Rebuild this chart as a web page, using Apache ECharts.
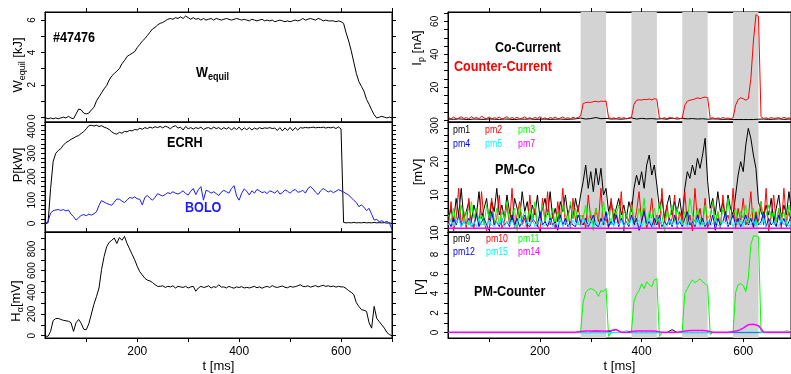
<!DOCTYPE html>
<html>
<head>
<meta charset="utf-8">
<script src="https://cdn.jsdelivr.net/npm/echarts@6/dist/echarts.min.js"></script>
<style>
  html, body { margin: 0; padding: 0; background: #fff; }
  #main { width: 791px; height: 374px; }
</style>
</head>
<body>
<div id="main"></div>
<script>
// time bases [ms]
const tMs = [
  20,25,30,35,40,45,50,55,60,65,
  70,75,80,85,90,95,100,105,110,115,
  120,125,130,135,140,145,150,155,160,165,
  170,175,180,185,190,195,200,205,210,215,
  220,225,230,235,240,245,250,255,260,265,
  270,275,280,285,290,295,300,305,310,315,
  320,325,330,335,340,345,350,355,360,365,
  370,375,380,385,390,395,400,405,410,415,
  420,425,430,435,440,445,450,455,460,465,
  470,475,480,485,490,495,500,505,510,515,
  520,525,530,535,540,545,550,555,560,565,
  570,575,580,585,590,595,600,605,610,615,
  620,625,630,635,640,645,650,655,660,665,
  670,675,680,685,690,695,700
];
const tCoarse = [
  20,30,40,50,60,70,80,90,100,110,
  120,130,140,150,160,170,180,190,200,210,
  220,230,240,250,260,270,280,290,300,310,
  320,330,340,350,360,370,380,390,400,410,
  420,430,440,450,460,470,480,490,500,510,
  520,530,540,550,560,570,580,590,600,610,
  620,630,640,650,660,670,680,690,700
];

// left column
const wEquil = [
  -0.05,-0.1,-0.05,-0.1,-0.05,-0.1,-0.05,0,-0.05,0.05,
  -0.05,-0.1,0.2,0.5,0.45,0.25,0.2,0.25,0.45,0.6,
  1.0,1.25,1.5,1.75,1.95,2.3,2.55,2.7,2.85,3.0,
  3.3,3.5,3.75,3.85,3.95,4.05,4.3,4.5,4.7,4.85,
  5.05,5.25,5.45,5.55,5.7,5.8,5.85,5.95,6.05,6.1,
  6.05,6.15,6.1,6.2,6.1,6.25,6.15,6.05,6.15,6.05,
  6.1,6.0,6.1,6.0,6.05,6.1,6.0,6.1,6.05,6.0,
  6.05,6.1,6.05,6.0,6.05,6.1,6.05,6.0,6.05,6.0,
  5.95,6.05,6.0,5.95,6.0,6.05,5.95,6.0,5.95,6.0,
  5.9,5.95,6.0,5.95,5.9,5.95,5.9,5.95,6.0,5.95,
  6.0,6.1,6.0,6.05,6.1,6.05,6.0,6.1,6.05,5.95,
  6.0,5.95,5.95,5.95,5.9,5.95,5.9,5.8,5.2,4.7,
  4.1,3.4,2.7,2.2,1.9,1.6,1.1,0.8,0.45,0.15,
  -0.05,0.0,0.05,0.0,-0.05,0.0,-0.05
];
const ecrh = [
  0,3,150,265,300,312,320,335,346,352,
  360,365,372,376,385,393,405,418,420,417,
  420,415,418,412,408,402,392,385,382,390,
  386,394,392,398,396,402,400,407,403,410,
  406,412,408,414,410,415,409,416,412,405,
  414,418,408,412,400,415,405,410,404,410,
  406,412,402,408,410,404,412,406,410,402,
  410,404,411,400,410,402,412,399,409,401,
  410,400,408,403,410,405,409,407,410,406,
  408,398,410,396,409,398,411,397,410,400,
  410,408,411,409,410,412,409,411,410,412,
  408,411,409,412,406,413,404,5,3,4,
  3,5,3,4,3,5,3,4,3,5,
  3,4,3,4,2,3,0
];
const bolo = [
  0,10,45,55,58,60,56,60,54,58,
  40,30,15,25,35,38,34,40,36,42,
  50,78,98,92,86,82,78,92,105,104,
  96,90,100,112,108,114,106,104,80,112,
  120,108,100,112,128,122,118,124,132,128,
  136,130,126,132,140,128,122,138,150,124,
  145,158,100,142,138,130,136,128,120,134,
  142,136,130,150,162,118,100,130,148,138,
  122,140,130,146,140,132,136,128,140,136,
  130,142,126,132,144,138,130,140,146,134,
  136,142,130,150,158,148,134,124,140,150,
  142,135,140,132,138,145,140,135,128,122,
  110,100,90,72,80,70,55,65,40,15,
  18,8,12,5,10,2,-25
];
const hAlpha = [
  -5,-5,40,140,158,160,150,142,138,133,
  120,40,120,150,115,60,55,110,200,290,
  360,440,610,730,820,860,880,900,850,905,
  880,915,850,800,750,700,640,590,560,530,
  512,505,490,470,455,455,460,445,455,450,
  460,440,455,450,445,455,440,450,455,410,
  440,455,445,450,460,440,452,445,470,448,
  450,440,455,445,438,450,445,452,440,446,
  440,448,455,442,450,438,448,455,445,462,
  450,445,452,458,446,442,455,448,452,460,
  470,455,452,460,448,455,462,450,458,465,
  455,460,452,458,448,455,450,450,435,415,
  400,380,305,270,240,235,225,120,70,270,
  160,130,100,70,30,10,0
];

// right column
const bands = [[280, 330], [380, 430], [480, 530], [580, 630]];
const ipCounter = [
  1.5,0.8,1.8,0.6,1.2,2.0,0.9,1.5,0.7,2.1,
  1.0,1.6,0.8,2.4,1.2,0.9,1.9,0.7,1.4,1.0,
  1.8,0.6,1.3,2.0,0.8,1.5,0.9,1.7,0.6,1.2,
  1.9,0.8,1.4,0.7,1.6,1.0,2.0,0.8,1.3,0.6,
  1.5,1.0,1.8,0.7,1.2,1.9,0.9,1.4,0.8,1.6,
  1.0,1.5,2.5,10.0,10.6,10.8,10.7,11.2,11.4,11.0,
  11.5,11.3,11.6,1.5,0.9,1.3,0.8,1.6,1.0,1.4,
  0.8,1.2,1.5,9.5,12.0,12.3,12.1,12.6,12.4,12.8,
  12.2,13.0,12.6,1.2,0.9,1.4,0.8,1.6,1.1,0.9,
  1.5,0.8,1.2,9.0,11.5,12.0,12.4,12.8,13.5,13.0,
  13.6,14.0,13.5,1.0,1.4,0.8,1.3,0.9,1.5,1.0,
  1.2,0.8,1.4,9.0,12.5,13.5,13.0,12.0,13.0,25.0,
  48.0,64.0,63.0,2.0,1.0,1.3,0.8,1.5,1.0,1.2,
  1.4,0.9,1.6,1.0,1.3,0.8,1.1
];
const ipCo = [
  0.6,0.4,0.7,0.5,0.3,0.6,0.5,0.4,0.7,0.5,
  0.4,0.6,0.5,0.3,0.6,0.5,0.7,0.4,0.5,0.6,
  0.4,0.5,0.6,0.4,0.5,0.7,1.2,0.6,0.9,1.5,
  0.8,1.0,0.6,0.7,0.5,0.8,1.3,0.6,1.0,0.7,
  0.9,0.6,0.8,0.5,1.2,0.6,1.0,0.7,0.9,0.6,
  0.8,0.5,0.7,0.6,0.4,0.5,0.3,0.3,0.3,0.3,
  0.3,0.5,0.6,0.4,0.5,0.7,0.4,0.6,0.5
];
const pm1 = [
  3,6,2,9,4,12,3,5,8,2,
  7,4,11,3,6,9,2,8,5,12,
  4,7,3,10,5,2,9,6,3,11,
  5,8,2,7,4,10,3,6,9,4,
  11,3,6,2,8,5,10,4,7,3,
  9,5,10,14,19,12,17,11,18,13,
  18,10,12,5,8,3,6,9,4,7,
  3,8,5,12,16,13,17,12,19,22,
  16,19,13,6,9,3,7,10,4,8,
  5,9,3,12,17,15,19,16,21,18,
  22,27,14,6,9,4,11,5,8,3,
  10,6,4,10,16,20,17,25,30,27,
  22,18,8,5,3,7,4,9,2,6,
  10,3,7,4,11,5,3
];
const pm2 = [
  1,8,-0.8,3,12,1,5,0,9,2,
  0,6,1,11,2,-0.8,4,9,1,3,
  10,0,2,7,1,12,0,4,8,1,
  3,0,10,2,6,1,-0.8,9,2,11,
  1,4,0,8,2,12,1,5,0,9,
  2,7,1,4,0,10,3,1,6,2,
  12,1,3,0,9,2,5,1,11,-0.8,
  4,2,8,1,5,11,2,6,0,3,
  9,1,4,0,12,2,7,1,3,10,
  0,5,2,11,1,4,-0.8,12,2,6,
  1,9,0,3,8,1,5,0,10,2,
  4,1,12,0,6,2,9,1,3,11,
  0,5,2,8,1,12,-0.8,4,10,1,
  6,0,12,2,5,1,9
];
const pm3 = [
  4,2,6,1,3,7,2,5,1,8,
  3,6,2,4,1,7,3,5,2,6,
  1,5,3,8,2,4,6,-0.7,7,3,
  5,2,6,3,8,1,4,7,2,5,
  3,6,1,5,2,7,4,2,8,3,
  6,1,4,3,7,2,5,-0.7,6,3,
  2,8,3,5,1,6,4,7,2,5,
  4,1,7,3,2,6,3,9,1,5,
  3,6,2,8,4,-0.7,5,3,7,2,
  6,3,1,5,2,9,4,2,6,3,
  1,7,3,4,8,2,5,1,6,3,
  9,2,4,6,1,5,3,7,2,4,
  6,1,5,8,2,4,7,3,5,2,
  6,3,5,1,7,2,4
];
const pm4 = [
  2,0.5,3,1,4,0.5,2,1,3,0.5,
  1,4,0.5,2,3,1,-0.6,5,1,2,
  0.5,3,1,2,0.5,4,1,3,0.5,2,
  4,1,0.5,3,2,0.5,5,1,2,0.5,
  3,1,2,-0.6,4,1,3,0.5,2,1,
  0.5,4,2,1,3,0.5,2,4,1,0.5,
  3,1,5,0.5,2,1,4,0.5,3,1,
  2,0.5,4,1,3,-0.6,2,5,1,2,
  0.5,3,1,4,0.5,2,1,3,0.5,4,
  1,2,0.5,3,5,1,2,0.5,4,1,
  3,0.5,2,1,4,-0.6,3,1,2,5,
  0.5,2,4,1,3,0.5,2,4,1,3,
  0.5,4,1,2,5,0.5,3,1,2,0.5,
  4,1,3,0.5,2,4,1
];
const pm5 = [
  1,2.5,0.5,1.5,3,0.5,2,1,2.5,0.5,
  2,0.5,3,1,1.5,0.5,2.5,1,0.5,2,
  1,3,0.5,2,1,2.5,0.5,1.5,3,1,
  0.5,2,1,3,0.5,1.5,2.5,0.5,1,2,
  2.5,0.5,1.5,1,3,0.5,2,1,0.5,2.5,
  1,2,0.5,3,1.5,1,2.5,0.5,2,1,
  0.5,2.5,1,1.5,3,0.5,2,1,2.5,0.5,
  2,1,3,0.5,1.5,2.5,0.5,2,1,3,
  1,0.5,2,3,1,1.5,0.5,2.5,1,2,
  0.5,3,1,2,0.5,2.5,1.5,1,3,0.5,
  2,1,2.5,0.5,1.5,3,1,0.5,2,1.5,
  1,3,0.5,2,1,2.5,0.5,3,1.5,1,
  2.5,0.5,2,1,3,0.5,1.5,2.5,1,2,
  0.5,3,1,2,0.5,2.5,1
];
const pm7 = [
  0,0,0,0,0,0,0,0,0,0,
  0,0,0,0,0,0,0,0,0,0,
  0,0,0,0,0,0,0,0,0,0,
  0,0,0,0,0,0,0,0,0,0,
  0,0,0,0,0,0,0,0,0,0,
  0,0,0,0,0,0,0,0,0,0,
  0,0,0,0,0,0,0,0,0
];
const pm11 = [
  0,0,0,0,0,0,0,0,0,0,
  0,0,0,0,0,0,0,0,0,0,
  0,0,0,0,0,0,0,0,0,0,
  0,0,0,0,0,0,0,0,0,0,
  0,0,0,0,0,0,0,0,0,0,
  0,0,0.1,3.1,4.1,4.4,4.5,4.4,4.2,3.7,
  4.3,4.2,4.5,-0.4,0,0,0,0,0,0,
  0,0,0.1,3.2,3.9,4.3,5.0,4.5,5.2,4.9,
  4.7,5.4,5.5,-0.4,0,0,0,0,0,0,
  0,0,0.1,4.0,4.5,5.0,5.4,5.1,5.3,5.5,
  5.2,5.0,4.8,-0.2,0,0,0,0,0,0,
  0,0,0.1,4.1,4.9,5.0,4.8,4.2,5.6,9.0,
  9.9,9.9,9.8,0.1,0.05,0.05,0.05,0.05,0.05,0.05,
  0.05,0.05,0.05,0.2,0.1,0.05,0.05
];
const pm9 = [
  0,0,0,0,0,0,0,0,0,0,
  0,0,0,0,0,0,0,0,0,0,
  0,0,0,0,0,0,0,0,0,0,
  0,0,0,0,0,0,0,0,0,0,
  0,0,0,0,0.3,0,0,0,0,0,
  0,0,0,0,0,0,0,0,0,0,
  0,0,0,0,0,0,0,0,0
];
const pm10 = [
  0,0,0,0,0,0,0,0,0,0,
  0,0,0,0,0,0,0,0,0,0,
  0,0,0,0,0,0,0,0,0,0.2,
  0,0,0,0,0,0,0,0,0,0,
  0,0,0,0,0,0,0,0,0,0,
  0,0,0,0,0,0,0,0,0,0,
  0,0,0,0,0,0,0,0,0
];
const pm12 = [
  0,0,0,0,0,0,0,0,0,0,
  0,0,0,0,0,0,0,0,0,0,
  0,0,0,0,0,0,0,0,0,0,
  0,0,0.15,0.3,0,0,0,0,0,0,
  0,0,0,0,0,0,0,0,0,0,
  0,0,0,0,0,0,0,0,0,0,
  0,0,0,0,0,0,0,0,0
];
const pm15 = [
  0,0,0,0,0,0,0,0,0,0,
  0,0,0,0,0,0,0,0,0,0,
  0,0,0,0,0,0,0,0,0,0,
  0,0,0,0,0,0.2,0,0,0,0,
  0,0,0,0,0,0,0,0,0,0,
  0,0,0,0,0,0,0.05,0.05,0.05,0.05,
  0.05,0.05,0,0,0,0,0,0,0
];
const pm14 = [
  0.02,0.02,0.02,0.02,0.02,0.02,0.02,0.02,0.02,0.02,
  0.02,0.02,0.02,0.02,0.02,0.02,0.02,0.02,0.02,0.02,
  0.02,0.02,0.02,0.02,0.02,0.02,0.1,0.15,0.15,0.15,
  0.15,0.12,0.2,0.3,0.02,0.02,0.1,0.15,0.15,0.15,
  0.15,0.12,0.02,0.02,0.02,0.02,0.1,0.18,0.2,0.2,
  0.2,0.15,0.02,0.02,0.02,0.02,0.1,0.2,0.45,0.8,
  0.85,0.7,0.05,0.02,0.02,0.02,0.02,0.02,0.02
];

// tick labels
const xTicks = [100, 200, 300, 400, 500, 600, 700];
const xLabels = [200, 400, 600];
const wTicks = [0, 1, 2, 3, 4, 5, 6];
const wLabels = [0, 2, 4, 6];
const pTicks = [0, 20, 40, 60, 80, 100, 120, 140, 160, 180, 200, 220, 240, 260, 280, 300, 320, 340, 360, 380, 400, 420];
const pLabels = [0, 100, 200, 300, 400];
const hTicks = [0, 100, 200, 300, 400, 500, 600, 700, 800, 900];
const hLabels = [0, 200, 400, 600, 800];
const ipTicks = [0, 5, 10, 15, 20, 25, 30, 35, 40, 45, 50, 55, 60, 65];
const ipLabels = [0, 20, 40, 60];
const mvTicks = [0, 2, 4, 6, 8, 10, 12, 14, 16, 18, 20, 22, 24, 26, 28, 30];
const mvLabels = [0, 10, 20, 30];
const vTicks = [0, 1, 2, 3, 4, 5, 6, 7, 8, 9, 10];
const vLabels = [0, 2, 4, 6, 8, 10];

const FONT = "'Liberation Sans Narrow', 'Liberation Sans', Arial, sans-serif";
const C = { blk: '#000000', red: '#ff0000', grn: '#00ff00', blu: '#0000ff', cyn: '#00ffff', mag: '#ff00ff' };

// grid layout: left column and right column, three stacked panels each
const panels = [
  { left: 45,  top: 12,  width: 347, xMax: 700, yMin: -0.3, yMax: 6.5,  ticks: wTicks,  labels: wLabels },
  { left: 45,  top: 122, width: 347, xMax: 700, yMin: -36,  yMax: 434,  ticks: pTicks,  labels: pLabels },
  { left: 45,  top: 232, width: 347, xMax: 700, yMin: -21,  yMax: 956,  ticks: hTicks,  labels: hLabels,  bottom: true },
  { left: 448, top: 12,  width: 343, xMax: 694, yMin: -1.2, yMax: 65.7, ticks: ipTicks, labels: ipLabels },
  { left: 448, top: 122, width: 343, xMax: 694, yMin: -1.1, yMax: 31.9, ticks: mvTicks, labels: mvLabels },
  { left: 448, top: 232, width: 343, xMax: 694, yMin: -0.56, yMax: 10.3, ticks: vTicks, labels: vLabels, bottom: true }
];

const grid = [], xAxis = [], yAxis = [];
panels.forEach((p, g) => {
  grid.push({ left: p.left, top: p.top, width: p.width, height: 110, show: true, borderColor: '#000', borderWidth: 1 });
  const xb = { gridIndex: g, type: 'value', min: 19, max: p.xMax, splitLine: { show: false },
    axisLine: { show: true, onZero: false, lineStyle: { color: '#000' } } };
  xAxis.push(Object.assign({}, xb, {
    position: 'bottom',
    axisTick: { show: !!p.bottom, length: 4, customValues: xTicks, lineStyle: { color: '#000' } },
    axisLabel: { show: !!p.bottom, customValues: xLabels, color: '#000', fontSize: 12, fontFamily: FONT, margin: 8 },
    name: p.bottom ? 't [ms]' : '', nameLocation: 'middle', nameGap: 22,
    nameTextStyle: { color: '#000', fontSize: 13, fontFamily: FONT }
  }));
  xAxis.push(Object.assign({}, xb, {
    position: 'top',
    axisTick: { show: true, length: 4, customValues: xTicks, lineStyle: { color: '#000' } },
    axisLabel: { show: false }
  }));
  const yb = { gridIndex: g, type: 'value', min: p.yMin, max: p.yMax, splitLine: { show: false },
    axisLine: { show: true, onZero: false, lineStyle: { color: '#000' } } };
  yAxis.push(Object.assign({}, yb, {
    position: 'left',
    axisTick: { show: true, length: 4, customValues: p.ticks, lineStyle: { color: '#000' } },
    axisLabel: { customValues: p.labels, rotate: 90, color: '#000', fontSize: 10, fontFamily: FONT, margin: 8 }
  }));
  yAxis.push(Object.assign({}, yb, {
    position: 'right',
    axisTick: { show: true, length: 4, customValues: p.ticks, lineStyle: { color: '#000' } },
    axisLabel: { show: false }
  }));
});

function line(g, ts, vs, color, width) {
  return {
    type: 'line', xAxisIndex: 2 * g, yAxisIndex: 2 * g,
    data: ts.map((t, i) => [t, vs[i]]),
    showSymbol: false, symbol: 'none', silent: true,
    lineStyle: { color: color, width: width || 1 }, itemStyle: { color: color }
  };
}
function shade(g) {
  return {
    type: 'line', xAxisIndex: 2 * g, yAxisIndex: 2 * g, data: [], silent: true,
    markArea: { silent: true, itemStyle: { color: '#d3d3d3' },
      data: bands.map(b => [{ xAxis: b[0] }, { xAxis: b[1] }]) }
  };
}

const series = [
  line(0, tMs, wEquil, C.blk),
  line(1, tMs, ecrh, C.blk),
  line(1, tMs, bolo, '#1a1aff'),
  line(2, tMs, hAlpha, C.blk),
  shade(3), shade(4), shade(5),
  line(3, tCoarse, ipCo, C.blk),
  line(3, tMs, ipCounter, C.red),
  line(4, tMs, pm1, C.blk),
  line(4, tMs, pm2, C.red),
  line(4, tMs, pm3, C.grn),
  line(4, tMs, pm4, C.blu),
  line(4, tMs, pm5, C.cyn),
  line(4, tCoarse, pm7, C.mag, 1.5),
  line(5, tCoarse, pm9, C.blk),
  line(5, tCoarse, pm10, C.red),
  line(5, tMs, pm11, C.grn),
  line(5, tCoarse, pm12, C.blu),
  line(5, tCoarse, pm15, C.cyn),
  line(5, tCoarse, pm14, C.mag, 1.5)
];

function txt(x, y, text, color, size, bold, sx) {
  return { type: 'text', x: x, y: y, scaleX: sx || 1, silent: true, z: 100,
    style: { text: text, fill: color, fontSize: size, fontWeight: bold ? 'bold' : 'normal',
      fontFamily: FONT, align: 'left', verticalAlign: 'middle' } };
}
function subText(x, y, main, sub, rest, size, bold, color, rotate, sx) {
  return { type: 'text', x: x, y: y, silent: true, z: 100, scaleX: sx || 1,
    rotation: rotate ? Math.PI / 2 : 0,
    style: {
      text: '{n|' + main + '}{s|' + sub + '}' + (rest ? '{n|' + rest + '}' : ''),
      fill: color, fontFamily: FONT, fontWeight: bold ? 'bold' : 'normal',
      align: rotate ? 'center' : 'left', verticalAlign: 'middle',
      rich: {
        n: { fontSize: size, fontFamily: FONT, fontWeight: bold ? 'bold' : 'normal', fill: color },
        s: { fontSize: Math.round(size * 0.7), fontFamily: FONT, fontWeight: bold ? 'bold' : 'normal', fill: color, padding: [9, 0, 0, 0] }
      }
    } };
}
function vName(x, y, text) {
  return { type: 'text', x: x, y: y, rotation: Math.PI / 2, silent: true, z: 100,
    style: { text: text, fill: '#000', fontSize: 13, fontFamily: FONT, align: 'center', verticalAlign: 'middle' } };
}

const graphic = [
  txt(53, 38, '#47476', C.blk, 14, true, 0.9),
  subText(196, 73, 'W', 'equil', '', 14, true, C.blk, false, 0.9),
  txt(167, 143, 'ECRH', C.blk, 14, true, 0.9),
  txt(185, 208, 'BOLO', '#1a1aff', 14, true, 0.9),
  txt(495, 48, 'Co-Current', C.blk, 14, true, 0.89),
  txt(454, 67, 'Counter-Current', C.red, 14, true, 0.9),
  txt(495, 170, 'PM-Co', C.blk, 14, true, 0.9),
  txt(474, 292, 'PM-Counter', C.blk, 14, true, 0.9),
  txt(453, 130, 'pm1', C.blk, 11, false, 0.8), txt(485, 130, 'pm2', C.red, 11, false, 0.8), txt(518, 130, 'pm3', C.grn, 11, false, 0.8),
  txt(453, 143.5, 'pm4', C.blu, 11, false, 0.8), txt(485, 143.5, 'pm5', C.cyn, 11, false, 0.8), txt(518, 143.5, 'pm7', C.mag, 11, false, 0.8),
  txt(453, 239, 'pm9', C.blk, 11, false, 0.8), txt(486, 239, 'pm10', C.red, 11, false, 0.8), txt(518, 239, 'pm11', C.grn, 11, false, 0.8),
  txt(453, 251.5, 'pm12', C.blu, 11, false, 0.8), txt(486, 251.5, 'pm15', C.cyn, 11, false, 0.8), txt(518, 251.5, 'pm14', C.mag, 11, false, 0.8),
  subText(18, 65, 'W', 'equil', ' [kJ]', 13, false, C.blk, true),
  vName(18, 165, 'P[kW]'),
  subText(16, 301, 'H', 'α', '[mV]', 13, false, C.blk, true),
  subText(417, 48, 'I', 'p', ' [nA]', 13, false, C.blk, true),
  vName(418, 172, '[mV]'),
  vName(420, 287, '[V]')
];

const chart = echarts.init(document.getElementById('main'));
chart.setOption({
  animation: false,
  backgroundColor: '#fff',
  grid: grid,
  xAxis: xAxis,
  yAxis: yAxis,
  series: series,
  graphic: graphic
});
</script>
</body>
</html>
